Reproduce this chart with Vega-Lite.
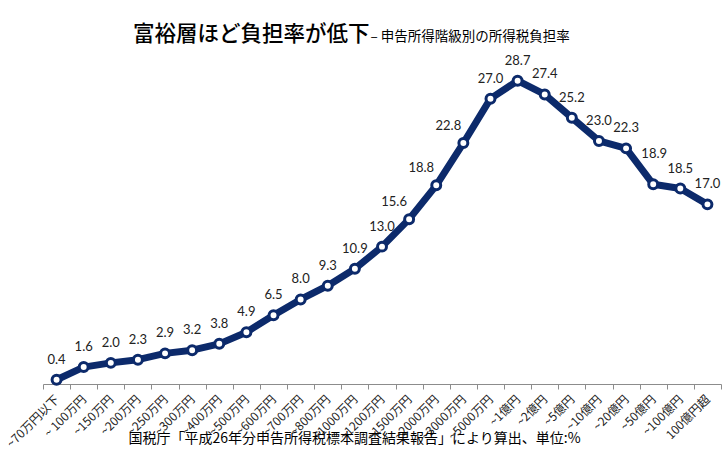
{
  "$schema": "https://vega.github.io/schema/vega-lite/v6.json",
  "width": 678,
  "height": 317,
  "autosize": {"type": "none"},
  "padding": {"left": 43, "top": 67, "right": 5, "bottom": 91},
  "background": "white",
  "title": {
    "text": "富裕層ほど負担率が低下",
    "anchor": "start",
    "frame": "group",
    "dx": 90,
    "offset": -16,
    "font": "Noto Sans CJK JP",
    "fontSize": 21.5,
    "fontWeight": 500,
    "color": "#000000"
  },
  "data": {
    "values": [
      {"bracket": "~70万円以下", "rate": 0.4},
      {"bracket": "~ 100万円", "rate": 1.6},
      {"bracket": "~150万円", "rate": 2.0},
      {"bracket": "~200万円", "rate": 2.3},
      {"bracket": "~250万円", "rate": 2.9},
      {"bracket": "~300万円", "rate": 3.2},
      {"bracket": "~400万円", "rate": 3.8},
      {"bracket": "~500万円", "rate": 4.9},
      {"bracket": "~600万円", "rate": 6.5},
      {"bracket": "~700万円", "rate": 8.0},
      {"bracket": "~800万円", "rate": 9.3},
      {"bracket": "~1000万円", "rate": 10.9},
      {"bracket": "~1200万円", "rate": 13.0},
      {"bracket": "~1500万円", "rate": 15.6},
      {"bracket": "~2000万円", "rate": 18.8},
      {"bracket": "~3000万円", "rate": 22.8},
      {"bracket": "~5000万円", "rate": 27.0},
      {"bracket": "~1億円", "rate": 28.7},
      {"bracket": "~2億円", "rate": 27.4},
      {"bracket": "~5億円", "rate": 25.2},
      {"bracket": "~10億円", "rate": 23.0},
      {"bracket": "~20億円", "rate": 22.3},
      {"bracket": "~50億円", "rate": 18.9},
      {"bracket": "~100億円", "rate": 18.5},
      {"bracket": "100億円超", "rate": 17.0}
    ]
  },
  "encoding": {
    "x": {
      "field": "bracket",
      "type": "nominal",
      "sort": null,
      "scale": {"type": "band", "paddingInner": 0, "paddingOuter": 0},
      "axis": {
        "title": "国税庁「平成26年分申告所得税標本調査結果報告」により算出、単位:%",
        "titleX": 85,
        "titleY": 54,
        "titleAlign": "left",
        "titleBaseline": "middle",
        "titleFont": "Noto Sans CJK JP",
        "titleFontSize": 14,
        "titleFontWeight": "normal",
        "titleColor": "#000000",
        "labelAngle": -45,
        "labelAlign": "right",
        "labelBaseline": "middle",
        "labelFont": "Noto Sans CJK JP",
        "labelFontSize": 12,
        "labelColor": "#222222",
        "labelPadding": 8,
        "labelOverlap": false,
        "labelBound": false,
        "tickBand": "extent",
        "tickSize": 5,
        "tickColor": "#8c8c8c",
        "domainColor": "#8c8c8c",
        "grid": false
      }
    },
    "y": {
      "field": "rate",
      "type": "quantitative",
      "scale": {"domain": [0, 30]},
      "axis": {
        "labels": false,
        "ticks": false,
        "domain": false,
        "grid": false,
        "title": "– 申告所得階級別の所得税負担率",
        "titleAngle": 0,
        "titleX": 327,
        "titleY": -31,
        "titleAlign": "left",
        "titleBaseline": "middle",
        "titleFont": "Noto Sans CJK JP",
        "titleFontSize": 13.5,
        "titleFontWeight": "normal",
        "titleColor": "#000000"
      }
    }
  },
  "layer": [
    {"mark": {"type": "line", "color": "#0c2a6b", "strokeWidth": 7, "strokeJoin": "round"}},
    {"mark": {"type": "point", "filled": false, "fill": "white", "stroke": "#0c2a6b", "strokeWidth": 3, "size": 80, "opacity": 1}},
    {
      "transform": [{"filter": {"not": {"field": "bracket", "oneOf": ["~1500万円", "~2000万円", "~3000万円", "~50億円"]}}}],
      "mark": {"type": "text", "dy": -20, "font": "Lato", "fontSize": 13, "color": "#222222"},
      "encoding": {"text": {"field": "rate", "type": "quantitative", "format": ".1f"}}
    },
    {
      "transform": [{"filter": {"field": "bracket", "oneOf": ["~1500万円", "~2000万円", "~3000万円"]}}],
      "mark": {"type": "text", "dx": -15, "dy": -17, "font": "Lato", "fontSize": 13, "color": "#222222"},
      "encoding": {"text": {"field": "rate", "type": "quantitative", "format": ".1f"}}
    },
    {
      "transform": [{"filter": {"field": "bracket", "equal": "~50億円"}}],
      "mark": {"type": "text", "dx": 1, "dy": -30, "font": "Lato", "fontSize": 13, "color": "#222222"},
      "encoding": {"text": {"field": "rate", "type": "quantitative", "format": ".1f"}}
    }
  ],
  "config": {"view": {"stroke": null}}
}
